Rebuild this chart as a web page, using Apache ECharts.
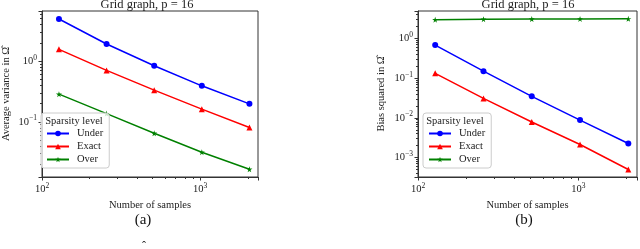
<!DOCTYPE html>
<html><head><meta charset="utf-8">
<script src="https://cdn.jsdelivr.net/npm/echarts@6/dist/echarts.min.js"></script>
<style>html,body{margin:0;padding:0;background:#fff}#c{width:640px;height:249px}</style>
</head><body><div id="c"></div>
<script>
const samples = [128, 256, 512, 1024, 2048];
const varUnder = [4.92, 1.91, 0.837, 0.392, 0.198];
const varExact = [1.56, 0.703, 0.333, 0.162, 0.081];
const varOver  = [0.286, 0.137, 0.065, 0.0317, 0.0166];
const biasUnder = [0.685, 0.151, 0.035, 0.0088, 0.00226];
const biasExact = [0.133, 0.031, 0.0079, 0.00214, 0.0005];
const biasOver  = [3.0, 3.08, 3.1, 3.12, 3.14];
const seriesNames = ['Under', 'Exact', 'Over'];
const titleText = 'Grid graph, p = 16';

const FONT = 'Liberation Serif';
const colors = {Under: '#0000ff', Exact: '#ff0000', Over: '#008000'};
const starPath = 'path://M50,0 L61,35 L98,35 L68,57 L79,91 L50,70 L21,91 L32,57 L2,35 L39,35 Z';
const symbols = {Under: 'circle', Exact: 'triangle', Over: starPath};
const symSizes = {Under: 6, Exact: 6, Over: 6};

function pow10Label(v) {
  const e = Math.log10(v);
  const r = Math.round(e);
  if (Math.abs(e - r) > 1e-6) return '';
  const s = r < 0 ? '\u2212' + (-r) : String(r);
  return '10{e|' + s + '}';
}
const labelRich = {e: {fontSize: 7.5, fontFamily: FONT, color: '#222', padding: [0, 0, 7, 0]}};

function xAxisFor(gi) {
  return {
    type: 'log', gridIndex: gi, min: 100, max: 2320,
    name: 'Number of samples', nameLocation: 'middle', nameGap: 19,
    nameTextStyle: {fontFamily: FONT, fontSize: 10.5, color: '#222'},
    axisLine: {show: true, lineStyle: {color: '#333', width: 1}},
    axisTick: {show: true, length: 3.5, lineStyle: {color: '#333'}},
    minorTick: {show: true, splitNumber: 9, length: 2, lineStyle: {color: '#333'}},
    splitLine: {show: false},
    axisLabel: {formatter: pow10Label, rich: labelRich, fontFamily: FONT, fontSize: 10.5, color: '#222', margin: 5, showMinLabel: true, showMaxLabel: true}
  };
}
function yAxisFor(gi, min, max, name, gap) {
  return {
    type: 'log', gridIndex: gi, min: min, max: max,
    name: name, nameLocation: 'middle', nameGap: gap, nameRotate: 90,
    nameTextStyle: {fontFamily: FONT, fontSize: 10.5, color: '#222'},
    axisLine: {show: true, lineStyle: {color: '#333', width: 1}},
    axisTick: {show: true, length: 3.5, lineStyle: {color: '#333'}},
    minorTick: {show: true, splitNumber: 9, length: 2, lineStyle: {color: '#333'}},
    splitLine: {show: false},
    axisLabel: {formatter: pow10Label, rich: labelRich, fontFamily: FONT, fontSize: 10.5, color: '#222', margin: 5, showMinLabel: true, showMaxLabel: true}
  };
}

function mkSeries(name, vals, gi) {
  return {
    name: name, type: 'line', xAxisIndex: gi, yAxisIndex: gi,
    data: samples.map((x, i) => [x, vals[i]]),
    symbol: symbols[name], symbolSize: symSizes[name],
    lineStyle: {color: colors[name], width: 1.5},
    itemStyle: {color: colors[name]},
    emphasis: {disabled: true}, animation: false
  };
}

function legendFor(gi, left) {
  return {
    show: true, orient: 'vertical', left: left, top: 113,
    data: seriesNames.map(n => ({name: n})),
    borderColor: '#cccccc', borderWidth: 1, borderRadius: 3,
    backgroundColor: 'rgba(255,255,255,0.8)',
    padding: [15, 6, 3, 5], itemGap: 2, itemWidth: 22, itemHeight: 7,
    textStyle: {fontFamily: FONT, fontSize: 10.5, color: '#222', padding: [0, 0, 0, 3]},
    selectedMode: false
  };
}

const chart = echarts.init(document.getElementById('c'), null, {renderer: 'canvas'});
chart.setOption({
  animation: false,
  backgroundColor: '#fff',
  grid: [
    {left: 36, top: 11, width: 222, height: 166, show: true, borderColor: '#333', borderWidth: 1, containLabel: false},
    {left: 418, top: 11, width: 221, height: 166, show: true, borderColor: '#333', borderWidth: 1, containLabel: false}
  ],
  xAxis: [xAxisFor(0), xAxisFor(1)],
  yAxis: [
    yAxisFor(0, 0.0124, 6.67, 'Average variance in \u03A9\u0302', 30),
    yAxisFor(1, 0.000324, 4.95, 'Bias squared in \u03A9\u0302', 31)
  ],
  legend: [legendFor(0, 41), legendFor(1, 423)],
  series: [
    mkSeries('Under', varUnder, 0), mkSeries('Exact', varExact, 0), mkSeries('Over', varOver, 0),
    mkSeries('Under', biasUnder, 1), mkSeries('Exact', biasExact, 1), mkSeries('Over', biasOver, 1)
  ],
  graphic: [
    {type: 'text', x: 147, y: 5, style: {text: titleText, font: '12.5px "Liberation Serif"', fill: '#222', align: 'center', verticalAlign: 'middle'}},
    {type: 'text', x: 528, y: 5, style: {text: titleText, font: '12.5px "Liberation Serif"', fill: '#222', align: 'center', verticalAlign: 'middle'}},
    {type: 'text', x: 74, y: 121.5, z: 100, style: {text: 'Sparsity level', font: '10.5px "Liberation Serif"', fill: '#222', align: 'center', verticalAlign: 'middle'}},
    {type: 'text', x: 455, y: 121.5, z: 100, style: {text: 'Sparsity level', font: '10.5px "Liberation Serif"', fill: '#222', align: 'center', verticalAlign: 'middle'}},
    {type: 'text', x: 143, y: 220, style: {text: '(a)', font: '15px "Liberation Serif"', fill: '#111', align: 'center', verticalAlign: 'middle'}},
    {type: 'text', x: 524, y: 220, style: {text: '(b)', font: '15px "Liberation Serif"', fill: '#111', align: 'center', verticalAlign: 'middle'}},
    {type: 'text', x: 144, y: 247, style: {text: '\u02C6', font: '12px "Liberation Serif"', fill: '#222', align: 'center', verticalAlign: 'middle'}}
  ]
});
</script></body></html>
